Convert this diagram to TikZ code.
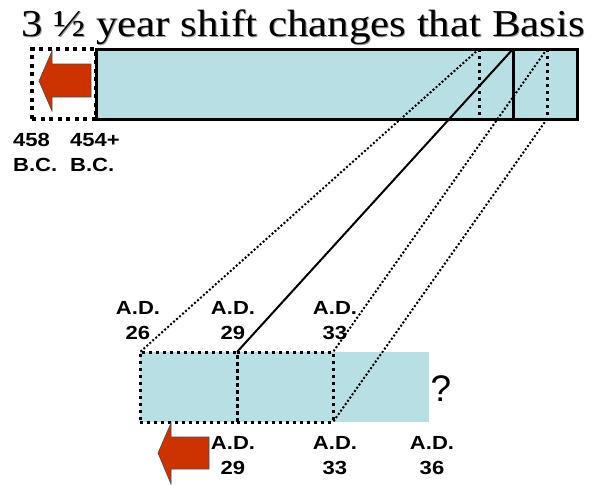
\documentclass[tikz,border=0pt]{standalone}
\usepackage{fontspec}
\setmainfont{Liberation Serif}
\setsansfont{Liberation Sans}
\newfontfamily\tagfont[FakeStretch=1.16]{Liberation Sans}
\newfontfamily\headfont[FakeStretch=1.13]{Liberation Serif}
\usepackage{xcolor}
\usepackage{tikz}
\usetikzlibrary{positioning}
\definecolor{shiftcyan}{HTML}{B8DFE3}
\definecolor{shiftred}{HTML}{CC3300}
\definecolor{shiftshade}{HTML}{9A9A9A}
\tikzset{
  bar/.style={anchor=north west,inner sep=0pt,outer sep=0pt,fill=shiftcyan},
  barline/.style={bar,draw=black,line width=3pt},
  dotbox/.style={anchor=north west,inner sep=0pt,outer sep=0pt,draw=black,line width=3pt,dash pattern=on 3pt off 4pt},
  bigdots/.style={dotbox,line width=3.5pt,dash pattern=on 4pt off 4.5pt},
  dotlink/.style={draw=black,line width=2pt,dash pattern=on 2pt off 2pt},
  link/.style={draw=black,line width=2pt},
  lbl/.style={font=\tagfont\bfseries\fontsize{19}{25}\selectfont,inner sep=0pt,align=center},
  backarrow/.style={fill=shiftred,draw=black!70,line width=0.6pt,line join=miter},
  headline/.style={anchor=base west,inner sep=0pt,font=\headfont\fontsize{38}{38}\selectfont},
}

\begin{document}
\begin{tikzpicture}[x=1pt,y=-1pt]
  \useasboundingbox (0,0) rectangle (603,485);
  \node[headline,text=shiftshade] (titleshade) at (22,37) {3 ½ year shift changes that Basis};
  \node[headline] (title) at (21,36) {3 ½ year shift changes that Basis};

  \node[bigdots,minimum width=64pt,minimum height=70pt] (oldbox) at (32,49) {};
  \node[barline,minimum width=481pt,minimum height=70pt] (topbar) at (96,49) {};
  \coordinate (m26) at (479,49);  \coordinate (m26b) at (479,119);
  \coordinate (m29) at (513,49);  \coordinate (m29b) at (513,119);
  \coordinate (m33) at (547,49);  \coordinate (m33b) at (547,119);
  \draw[line width=3pt,dash pattern=on 3pt off 4pt] (m26) -- (m26b);
  \draw[line width=3pt] (m29) -- (m29b);
  \draw[line width=3pt,dash pattern=on 3pt off 4pt] (m33) -- (m33b);

  \node[bar,minimum width=289pt,minimum height=70pt] (lowbar) at (140,352) {};
  \node[dotbox,minimum width=97pt,minimum height=70pt] (seg1) at (140,352) {};
  \node[dotbox,minimum width=96pt,minimum height=70pt] (seg2) at (237,352) {};

  \draw[dotlink] (m26) -- (seg1.north west);
  \draw[link] (m29) -- (seg1.north east);
  \draw[dotlink] (m33) -- (seg2.north east);
  \draw[dotlink] (m33b) -- (seg2.south east);

  \draw[backarrow] (39,81) -- (52,51) -- (52,64) -- (91,64) -- (91,97) -- (52,97) -- (52,111) -- cycle;
  \draw[backarrow] (158,453) -- (171,423) -- (171,437) -- (209,437) -- (209,469) -- (171,469) -- (171,484) -- cycle;

  \foreach \x/\t/\n in {13/458/bc458, 70/454+/bc454} {
    \node[lbl,align=left,anchor=west] (\n) at (\x,152.5) {\t\\B.C.};
  }
  \foreach \x/\y/\t/\n in {138/320.5/26/ad26, 233/320.5/29/ad29, 335/320.5/33/ad33,
                           233/455.5/29/ad29b, 335/455.5/33/ad33b, 432/455.5/36/ad36} {
    \node[lbl] (\n) at (\x,\y) {A.D.\\\t};
  }
  \node[inner sep=0pt,font=\sffamily\fontsize{37}{37}\selectfont] (unknown) at (441,389) {?};
\end{tikzpicture}
\end{document}
